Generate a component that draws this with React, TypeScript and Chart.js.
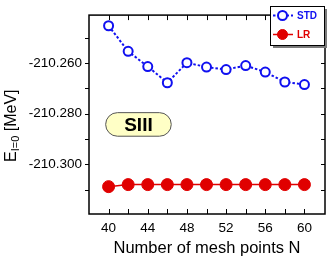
import React, { useEffect, useRef } from "react";
import { Chart, registerables } from "chart.js";

Chart.register(...registerables);

// ---- data ----
const meshPoints = [40, 42, 44, 46, 48, 50, 52, 54, 56, 58, 60];
const stdEnergy = [
  -210.2453, -210.2554, -210.2614, -210.2678, -210.2599, -210.2616,
  -210.2626, -210.261, -210.2636, -210.2675, -210.2685,
];
const lrEnergy = [
  -210.3088, -210.308, -210.308, -210.308, -210.308, -210.308,
  -210.308, -210.308, -210.308, -210.308, -210.308,
];
const seriesNames = ["STD", "LR"];
const xTickLabels = [40, 44, 48, 52, 56, 60];
const yTickLabels = [-210.26, -210.28, -210.3];
const xTitle = "Number of mesh points N";
const yTitleMain = "E";
const yTitleSub = "I=0";
const yTitleUnit = " [MeV]";
const forceLabel = "SIII";

// ---- layout / style ----
const X_MIN = 38;
const X_MAX = 62.1;
const Y_MIN = -210.3196;
const Y_MAX = -210.2411;
const BOX_X = [39.7, 46.4];
const BOX_Y = [-210.2796, -210.2889];
const FONT = "'Liberation Sans', Arial, Helvetica, sans-serif";
const BLUE = "#1010f0";
const RED = "#e00000";

const decorPlugin = {
  id: "decor",
  beforeDatasetsDraw(chart: any) {
    const { ctx, scales } = chart;
    const x = scales.x;
    const y = scales.y;
    const l = x.getPixelForValue(BOX_X[0]);
    const r = x.getPixelForValue(BOX_X[1]);
    const t = y.getPixelForValue(BOX_Y[0]);
    const b = y.getPixelForValue(BOX_Y[1]);
    const rad = (b - t) / 2;
    ctx.save();
    ctx.beginPath();
    ctx.roundRect(l, t, r - l, b - t, rad);
    ctx.fillStyle = "#ffffc6";
    ctx.fill();
    ctx.lineWidth = 1;
    ctx.strokeStyle = "#555";
    ctx.stroke();
    ctx.fillStyle = "#000";
    ctx.font = `bold 19px ${FONT}`;
    ctx.textAlign = "center";
    ctx.textBaseline = "middle";
    ctx.fillText(forceLabel, (l + r) / 2, (t + b) / 2 + 1);
    ctx.restore();
  },
  afterDatasetsDraw(chart: any) {
    const { ctx, chartArea, scales } = chart;
    const { left, right, top, bottom } = chartArea;
    const x = scales.x;
    const y = scales.y;
    ctx.save();
    // ticks
    ctx.strokeStyle = "#000";
    ctx.lineWidth = 1;
    ctx.beginPath();
    y.ticks.forEach((tk: any) => {
      const py = Math.round(y.getPixelForValue(tk.value)) + 0.5;
      if (py < top + 1 || py > bottom - 1) return;
      ctx.moveTo(left - 4, py);
      ctx.lineTo(left, py);
      ctx.moveTo(right - 4, py);
      ctx.lineTo(right, py);
    });
    x.ticks.forEach((tk: any) => {
      const px = Math.round(x.getPixelForValue(tk.value)) + 0.5;
      if (px < left + 1 || px > right - 1) return;
      ctx.moveTo(px, bottom - 5);
      ctx.lineTo(px, bottom);
      ctx.moveTo(px, top);
      ctx.lineTo(px, top + 5);
    });
    ctx.stroke();
    // frame
    ctx.lineWidth = 1.5;
    ctx.strokeRect(left, top, right - left, bottom - top);

    // legend
    const lx = 270;
    const ly = 6;
    const lw = 54;
    const lh = 39;
    ctx.fillStyle = "#7a7a7a";
    ctx.fillRect(lx + 3, ly + 3, lw, lh);
    ctx.fillStyle = "#fff";
    ctx.fillRect(lx, ly, lw, lh);
    ctx.lineWidth = 1;
    ctx.strokeStyle = "#000";
    ctx.strokeRect(lx + 0.5, ly + 0.5, lw, lh);
    const rows = [15.5, 34.5];
    chart.data.datasets.forEach((ds: any, i: number) => {
      const ry = rows[i];
      ctx.strokeStyle = ds.borderColor;
      ctx.lineWidth = ds.borderWidth;
      ctx.setLineDash(ds.borderDash || []);
      ctx.beginPath();
      ctx.moveTo(lx + 3, ry);
      ctx.lineTo(lx + 23, ry);
      ctx.stroke();
      ctx.setLineDash([]);
      ctx.beginPath();
      ctx.arc(lx + 12.5, ry, i === 0 ? 4.5 : 5, 0, Math.PI * 2);
      ctx.fillStyle = ds.pointBackgroundColor;
      ctx.fill();
      ctx.lineWidth = ds.pointBorderWidth;
      ctx.strokeStyle = ds.pointBorderColor;
      ctx.stroke();
      ctx.fillStyle = ds.borderColor;
      ctx.font = `bold 10px ${FONT}`;
      ctx.textAlign = "left";
      ctx.textBaseline = "middle";
      ctx.fillText(ds.label, lx + 27, ry + 0.5);
    });

    // y title
    ctx.fillStyle = "#000";
    ctx.translate(15.5, 162);
    ctx.rotate(-Math.PI / 2);
    ctx.textAlign = "left";
    ctx.textBaseline = "alphabetic";
    ctx.font = `16px ${FONT}`;
    ctx.fillText(yTitleMain, 0, 0);
    let adv = ctx.measureText(yTitleMain).width;
    ctx.font = `11px ${FONT}`;
    ctx.fillText(yTitleSub, adv, 3);
    adv += ctx.measureText(yTitleSub).width;
    ctx.font = `16px ${FONT}`;
    ctx.fillText(yTitleUnit, adv, 0);
    ctx.restore();
  },
};

export default function App() {
  const ref = useRef<HTMLCanvasElement | null>(null);

  useEffect(() => {
    if (!ref.current) return;
    const chart = new Chart(ref.current, {
      type: "line",
      data: {
        datasets: [
          {
            label: seriesNames[0],
            data: meshPoints.map((n, i) => ({ x: n, y: stdEnergy[i] })),
            borderColor: BLUE,
            borderWidth: 2,
            borderDash: [2.5, 2],
            pointRadius: 4.5,
            pointBorderWidth: 2,
            pointBackgroundColor: "#fff",
            pointBorderColor: BLUE,
            tension: 0,
          },
          {
            label: seriesNames[1],
            data: meshPoints.map((n, i) => ({ x: n, y: lrEnergy[i] })),
            borderColor: RED,
            borderWidth: 1.5,
            pointRadius: 6,
            pointBorderWidth: 1,
            pointBackgroundColor: RED,
            pointBorderColor: RED,
            tension: 0,
          },
        ],
      },
      options: {
        animation: false,
        responsive: false,
        maintainAspectRatio: false,
        devicePixelRatio: 1,
        layout: { padding: { top: 2, right: 2, left: 0, bottom: 0 } },
        plugins: {
          legend: { display: false },
          tooltip: { enabled: false },
        },
        scales: {
          x: {
            type: "linear",
            min: X_MIN,
            max: X_MAX,
            grid: { display: false, drawTicks: false },
            border: { display: false },
            ticks: {
              stepSize: 2,
              includeBounds: false,
              autoSkip: false,
              maxRotation: 0,
              padding: 6,
              color: "#000",
              font: { family: FONT, size: 13.5 },
              callback: (v: any) => (xTickLabels.includes(Number(v)) ? String(v) : ""),
            },
            title: {
              display: true,
              text: xTitle,
              color: "#000",
              font: { family: FONT, size: 16.5, lineHeight: 1 },
              padding: { top: 0, bottom: 0 },
            },
            afterFit: (s: any) => {
              s.height = 43;
            },
          },
          y: {
            type: "linear",
            min: Y_MIN,
            max: Y_MAX,
            grid: { display: false, drawTicks: false },
            border: { display: false },
            ticks: {
              stepSize: 0.01,
              includeBounds: false,
              autoSkip: false,
              padding: 7,
              color: "#000",
              font: { family: FONT, size: 13.5 },
              callback: (v: any) =>
                yTickLabels.some((t) => Math.abs(t - Number(v)) < 1e-6)
                  ? Number(v).toFixed(3)
                  : "",
            },
            afterFit: (s: any) => {
              s.width = 89;
            },
          },
        },
      },
      plugins: [decorPlugin],
    } as any);
    return () => chart.destroy();
  }, []);

  return (
    <div style={{ position: "fixed", left: 0, top: 0, width: 332, height: 257, background: "#fff" }}>
      <canvas ref={ref} width={332} height={257} style={{ display: "block" }} />
    </div>
  );
}
